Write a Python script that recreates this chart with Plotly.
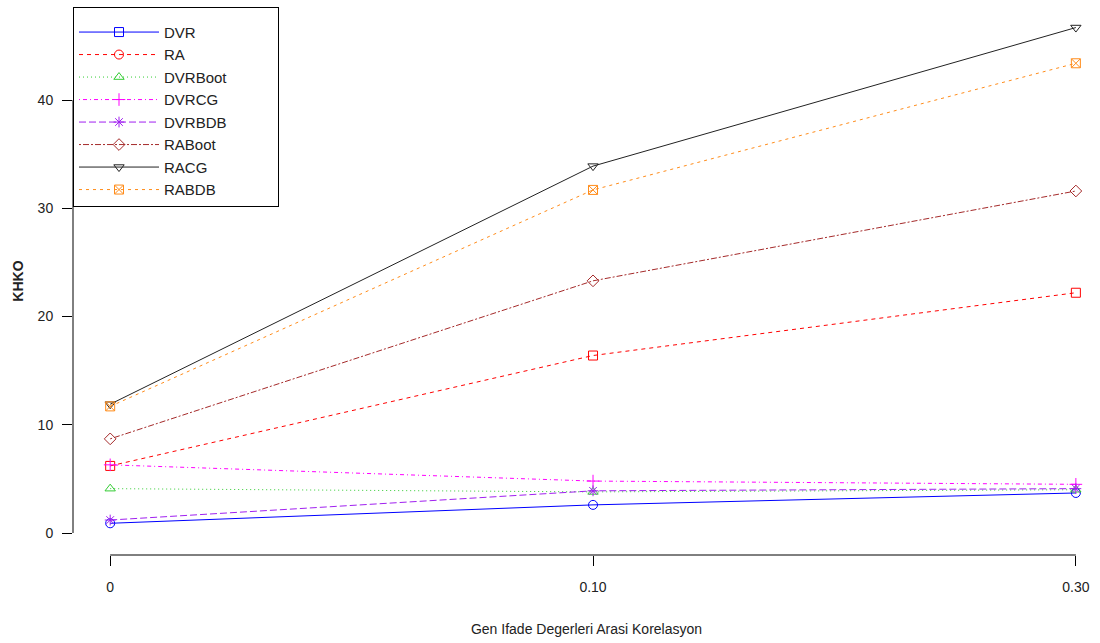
import plotly.graph_objects as go

x_labels = ["0", "0.10", "0.30"]
x_pos = [0, 1, 2]

series_names = ["DVR", "RA", "DVRBoot", "DVRCG", "DVRBDB", "RABoot", "RACG", "RABDB"]
DVR = [0.9, 2.6, 3.7]
RA = [6.2, 16.4, 22.2]
DVRBoot = [4.1, 3.8, 4.0]
DVRCG = [6.3, 4.8, 4.5]
DVRBDB = [1.2, 3.9, 4.1]
RABoot = [8.7, 23.3, 31.6]
RACG = [11.9, 33.9, 46.7]
RABDB = [11.7, 31.7, 43.4]
values = [DVR, RA, DVRBoot, DVRCG, DVRBDB, RABoot, RACG, RABDB]

colors = ["#0000FF", "#FF0000", "#33CC33", "#FF00FF", "#A020F0", "#A52A2A", "#222222", "#FF8C1A"]
dashes = ["solid", "4px,4px", "1px,3px", "1px,3px,4px,3px", "7px,3px", "2px,2px,6px,2px", "solid", "3px,4px"]
plot_symbols = ["circle-open", "square-open", "triangle-up-open", "cross-thin-open", "asterisk-open",
                "diamond-open", "triangle-down-open", "square-x-open"]
legend_symbols = ["square-open", "circle-open", "triangle-up-open", "cross-thin-open", "asterisk-open",
                  "diamond-open", "triangle-down-open", "square-x-open"]

FONT = "Liberation Sans, Arial, sans-serif"
PAD = "\u00a0" * 11

fig = go.Figure()
for name, vals, c, d, s in zip(series_names, values, colors, dashes, plot_symbols):
    fig.add_trace(go.Scatter(
        x=x_pos, y=vals, mode="lines+markers", name=name, showlegend=False,
        line=dict(color=c, width=1, dash=d),
        marker=dict(symbol=s, size=9, color=c, line=dict(color=c, width=1)),
    ))
for name, c, d, s in zip(series_names, colors, dashes, legend_symbols):
    fig.add_trace(go.Scatter(
        x=[None], y=[None], mode="lines+markers", name=name + PAD,
        line=dict(color=c, width=1, dash=d),
        marker=dict(symbol=s, size=9, color=c, line=dict(color=c, width=1)),
    ))

# R-style axis lines spanning only the tick range
fig.add_shape(type="line", xref="x", yref="paper", x0=x_pos[0], x1=x_pos[-1], y0=0, y1=0,
              line=dict(color="black", width=1))
fig.add_shape(type="line", xref="paper", yref="y", x0=0, x1=0, y0=0, y1=40,
              line=dict(color="black", width=1))

fig.update_layout(
    width=1100, height=643,
    margin=dict(l=73, r=0, t=7, b=88),
    paper_bgcolor="white", plot_bgcolor="white",
    font=dict(family=FONT, size=14, color="#222222"),
    showlegend=True,
    legend=dict(x=0, y=1, xanchor="left", yanchor="top", bordercolor="black", borderwidth=1,
                bgcolor="white", font=dict(size=15), itemwidth=80, tracegroupgap=0,
                title=dict(text="\u00a0", font=dict(size=6))),
    xaxis=dict(range=[-0.077, 2.05], tickvals=x_pos, ticktext=x_labels, showgrid=False,
               zeroline=False, showline=False, ticks="outside", ticklen=10, tickcolor="black",
               ticklabelstandoff=9,
               title=dict(text="Gen Ifade Degerleri Arasi Korelasyon", standoff=30,
                          font=dict(size=14))),
    yaxis=dict(range=[-2.03, 48.6], tickvals=[0, 10, 20, 30, 40], showgrid=False,
               zeroline=False, showline=False, ticks="outside", ticklen=10, tickcolor="black",
               ticklabelstandoff=6,
               title=dict(text="<b>KHKO</b>", standoff=10, font=dict(size=14))),
)

fig.write_html("out.html")
